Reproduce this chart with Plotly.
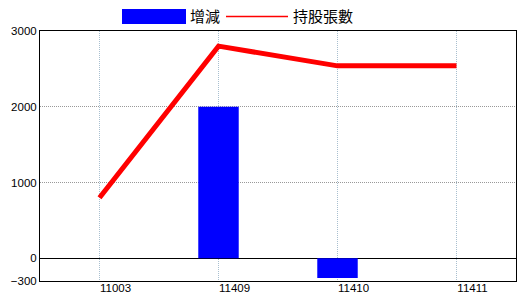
import plotly.graph_objects as go

categories = ["11003", "11409", "11410", "11411"]
change_values = [None, 2000, -260, None]
holding_values = [800, 2800, 2540, 2540]
y_tick_values = [-300, 0, 1000, 2000, 3000]
bar_name = "增減"
line_name = "持股張數"

W, H = 520, 300
ML, MR, MT, MB = 40, 4, 31, 19
PW, PH = W - ML - MR, H - MT - MB

def px_x(px):
    return (px - ML) / PW

def px_y(py):
    return (H - MB - py) / PH

fig = go.Figure()
fig.add_trace(go.Bar(x=categories, y=change_values, name=bar_name,
                     marker=dict(color="#0000FF", line=dict(width=0)), width=0.34,
                     showlegend=False))
fig.add_trace(go.Scatter(x=categories, y=holding_values, name=line_name, mode="lines",
                         line=dict(color="#FF0000", width=5), showlegend=False))

# custom legend
fig.add_shape(type="rect", xref="paper", yref="paper",
              x0=px_x(122), x1=px_x(186), y0=px_y(24), y1=px_y(9),
              fillcolor="#0000FF", line=dict(width=0))
fig.add_annotation(xref="paper", yref="paper", x=px_x(188), y=px_y(16),
                   text=bar_name, showarrow=False, xanchor="left", yanchor="middle",
                   font=dict(family="Noto Sans CJK TC", size=15, color="black"))
fig.add_shape(type="line", xref="paper", yref="paper",
              x0=px_x(226), x1=px_x(288), y0=px_y(16.5), y1=px_y(16.5),
              line=dict(color="#FF0000", width=1.5))
fig.add_annotation(xref="paper", yref="paper", x=px_x(291), y=px_y(16),
                   text=line_name, showarrow=False, xanchor="left", yanchor="middle",
                   font=dict(family="Noto Sans CJK TC", size=15, color="black"))

tick_font = dict(family="Liberation Sans", size=11.5, color="black")

fig.update_layout(
    width=W, height=H,
    margin=dict(l=ML, r=MR, t=MT, b=MB),
    paper_bgcolor="white", plot_bgcolor="white",
    font=dict(family="Liberation Sans", size=11, color="black"),
)
fig.update_xaxes(type="category", range=[-0.5, 3.5], showgrid=True,
                 gridcolor="#A8BFCF", griddash="1px,1px", gridwidth=1,
                 showline=True, linecolor="black", linewidth=1, mirror=True,
                 ticks="", tickfont=tick_font, ticklabelshift=16,
                 ticklabelstandoff=-4, automargin=False)
fig.update_yaxes(range=[-300, 3000], tickvals=y_tick_values,
                 showgrid=True, gridcolor="#999999", griddash="1px,1px", gridwidth=1,
                 zeroline=True, zerolinecolor="black", zerolinewidth=1,
                 showline=True, linecolor="black", linewidth=1, mirror=True,
                 ticks="", tickfont=tick_font, automargin=False)

fig.write_html("out.html")
